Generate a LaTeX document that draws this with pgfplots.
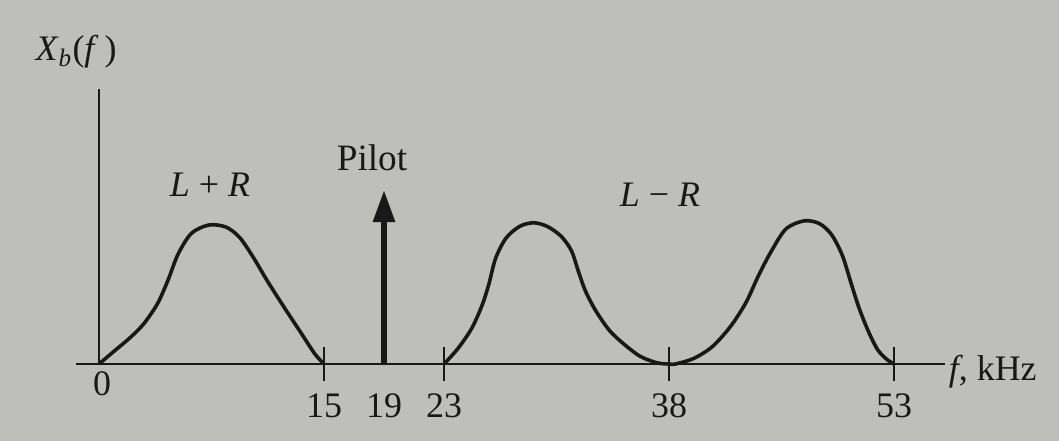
\documentclass[border=0pt]{standalone}
\usepackage{fontspec}
\setmainfont{Liberation Serif}
\usepackage{xcolor}
\usepackage{tikz}
\usetikzlibrary{arrows.meta}
\usepackage{pgfplots}
\pgfplotsset{compat=1.18}

\definecolor{paper}{RGB}{190,190,187}
\definecolor{ink}{RGB}{24,24,24}

\begin{document}
\begin{tikzpicture}
% paper background, same size as the photo
\fill[paper] (-1.0113,-1.0180) rectangle (12.9887,4.8121);
\begin{axis}[
  scale only axis,
  width=11.4816cm, height=3.638cm,
  xmin=-1.5, xmax=56.4,
  ymin=0, ymax=1.98,
  axis lines=middle,
  axis line style={-, line width=1.1pt, ink},
  clip=false,
  ytick=\empty,
  xtick={15,23,38,53},
  xticklabels={15,23,38,53},
  extra x ticks={19},
  extra x tick labels={19},
  extra x tick style={tick style={draw=none}},
  major tick length=0.44cm,
  tick align=center,
  tick style={ink, line width=1.1pt},
  xticklabel style={anchor=base, yshift=-0.49cm, font=\fontsize{13.5}{16}\selectfont, text=ink},
]

% L+R baseband
\addplot[ink, line width=1.35pt, smooth] coordinates {
(0,0) (0.94,0.086) (2.08,0.19) (2.99,0.29) (3.90,0.434) (4.59,0.60)
(5.27,0.79) (6.16,0.94) (7.33,1.0) (8.47,0.985) (9.38,0.91) (10.27,0.77)
(11.21,0.60) (12.33,0.41) (13.49,0.22) (14.38,0.074) (15,0)
};

% L-R, lower sideband
\addplot[ink, line width=1.35pt, smooth] coordinates {
(23,0) (23.92,0.11) (24.84,0.255) (25.53,0.42) (25.98,0.57) (26.44,0.76)
(27.13,0.905) (28.04,0.99) (28.97,1.016) (29.88,0.99) (30.80,0.92)
(31.49,0.816) (31.95,0.67) (32.41,0.53) (33.10,0.386) (34.01,0.244)
(34.93,0.149) (36.08,0.055) (37.22,0.008) (38,0)
};

% L-R, upper sideband
\addplot[ink, line width=1.35pt, smooth] coordinates {
(38,0) (38.43,0.0) (39.65,0.04) (40.88,0.124) (42.10,0.27) (43.12,0.44)
(43.94,0.63) (44.76,0.80) (45.78,0.97) (47.01,1.03) (48.03,1.01)
(48.84,0.93) (49.56,0.78) (50.17,0.57) (50.68,0.40) (51.29,0.235)
(51.90,0.104) (52.52,0.033) (53,0)
};

% pilot tone at 19 kHz
\addplot[ink, line width=2pt, -{Triangle[length=0.42cm,width=0.28cm]}] coordinates {(19,0) (19,1.25)};

\node[ink, font=\fontsize{13.5}{16}\selectfont] at (axis cs:-1.53,2.245) {\textit{X}\textsubscript{\textit{b}}(\textit{f}\,)};
\node[ink, font=\fontsize{13.5}{16}\selectfont] at (axis cs:7.4,1.288) {\textit{L} + \textit{R}};
\node[ink, font=\fontsize{14}{16}\selectfont] at (axis cs:18.2,1.482) {Pilot};
\node[ink, font=\fontsize{13.5}{16}\selectfont] at (axis cs:37.4,1.216) {\textit{L} − \textit{R}};
\node[ink, anchor=west, inner sep=1pt, font=\fontsize{13.5}{16}\selectfont] at (axis cs:56.45,-0.058) {\textit{f}, kHz};
\node[ink, anchor=base, font=\fontsize{13.5}{16}\selectfont] at (axis cs:0.2,-0.23) {0};
\end{axis}
\pgfresetboundingbox
\path (-1.0113,-1.0180) rectangle (12.9887,4.8121);
\end{tikzpicture}
\end{document}
